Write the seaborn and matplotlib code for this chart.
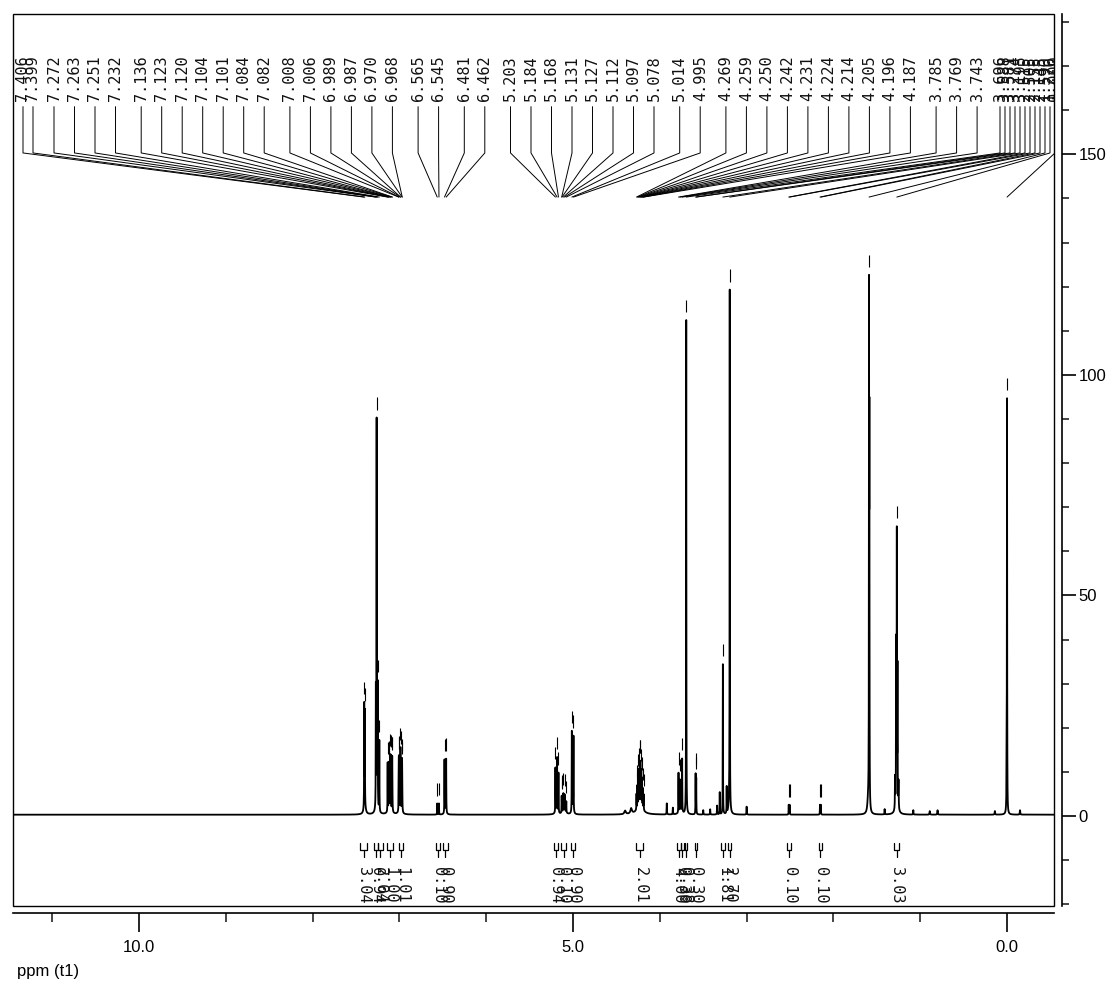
import numpy as np
import pandas as pd
import matplotlib
matplotlib.use("Agg")
import matplotlib.pyplot as plt
import seaborn as sns
from matplotlib.patches import Rectangle
from matplotlib.ticker import MultipleLocator, FixedLocator, FormatStrFormatter

# ---------------- data ----------------
# picked (labelled) peaks: chemical shift (ppm) and intensity
peak_ppm = [7.406, 7.399, 7.272, 7.263, 7.251, 7.232, 7.136, 7.123, 7.120, 7.104,
            7.101, 7.084, 7.082, 7.008, 7.006, 6.989, 6.987, 6.970, 6.968,
            6.565, 6.545, 6.481, 6.462,
            5.203, 5.184, 5.168, 5.131, 5.127, 5.112, 5.097, 5.078, 5.014, 4.995,
            4.269, 4.259, 4.250, 4.242, 4.231, 4.224, 4.214, 4.205, 4.196, 4.187,
            3.785, 3.769, 3.743, 3.696, 3.588, 3.581, 3.274, 3.195,
            2.515, 2.505, 2.155, 2.145, 1.590, 1.270, 0.000]
peak_height = [23, 21, 26, 86, 27, 16, 11, 9, 8, 10,
               10, 9, 9, 9, 9, 10, 9, 9, 8,
               2.5, 2.5, 12, 12,
               10, 12, 9, 3.5, 3, 4, 3.5, 2.5, 18, 17,
               3.5, 5, 7, 8, 9.5, 9.5, 8, 6.5, 4.5, 3.5,
               9, 7, 12, 112, 9, 8, 34, 117,
               2.2, 2.2, 2.2, 2.2, 111, 60, 92]

# unpicked lines, shoulders and small impurity signals
extra_ppm = [7.400, 7.260, 7.110, 6.990, 6.470, 5.190, 5.100, 5.005, 4.230, 4.330,
             4.400, 3.920, 3.850, 3.760, 3.500, 3.420, 3.340, 3.310, 3.230, 3.200,
             3.000, 1.586, 1.600, 1.290, 1.262, 1.278, 1.250, 1.270, 1.410, 1.080,
             0.890, 0.800, 0.004, 0.140, -0.150]
extra_height = [2.0, 3.0, 1.5, 1.5, 1.0, 1.0, 1.0, 1.5, 2.0, 1.2,
                0.8, 2.5, 1.5, 1.0, 1.0, 1.2, 2.0, 5.0, 6.0, 2.5,
                1.8, 80, 3.0, 7.0, 30, 36, 6.0, 3.0, 1.2, 1.0,
                0.8, 1.0, 12, 0.8, 1.0]
extra_hwhm = [0.012, 0.012, 0.020, 0.015, 0.010, 0.015, 0.020, 0.010, 0.040, 0.010,
              0.010, 0.002, 0.002, 0.020, 0.002, 0.002, 0.002, 0.0015, 0.0015, 0.010,
              0.002, 0.0015, 0.010, 0.002, 0.0015, 0.0015, 0.002, 0.015, 0.002, 0.002,
              0.003, 0.003, 0.002, 0.003, 0.003]

# integrals: region centre (ppm), region width (ppm), value
integ_ppm = [7.41, 7.27, 7.22, 7.11, 6.98, 6.555, 6.47, 5.20, 5.11, 5.00,
             4.23, 3.78, 3.74, 3.70, 3.585, 3.27, 3.195, 2.51, 2.15, 1.27]
integ_width = [0.08, 0.05, 0.05, 0.06, 0.05, 0.04, 0.05, 0.05, 0.05, 0.04,
               0.08, 0.04, 0.04, 0.03, 0.02, 0.04, 0.04, 0.04, 0.04, 0.06]
integ_label = ["3.04", "0.94", "2.04", "1.00", "1.01", "0.10", "0.90", "0.94", "0.10", "0.90",
               "2.01", "4.00", "0.30", "0.38", "0.30", "1.81", "2.70", "0.10", "0.10", "3.03"]

x_major = [10.0, 5.0, 0.0]
y_major = [0, 50, 100, 150]

# ---------------- figure ----------------
sns.set_style("white")
plt.rcParams['font.family'] = ['Liberation Sans', 'DejaVu Sans']
plt.rcParams['text.color'] = 'black'

W_PX, H_PX = 1110, 983
fig = plt.figure(figsize=(W_PX / 100, H_PX / 100), dpi=100)
left_px, right_px, top_px, bot_px = 12.7, 1054.0, 14.0, 906.0
ax = fig.add_axes([left_px / W_PX, 1 - bot_px / H_PX,
                   (right_px - left_px) / W_PX, (bot_px - top_px) / H_PX])
XL = (11.456, -0.541)
YL = (-20.4, 181.8)

# spectrum as sum of Lorentzian lines
all_p = np.array(peak_ppm + extra_ppm)
all_h = np.array(peak_height + extra_height, dtype=float)
all_w = np.array([0.0015] * len(peak_ppm) + extra_hwhm)
grid = np.union1d(np.arange(XL[1], XL[0], 0.0004), all_p)
spec = (all_h[None, :] * all_w[None, :] ** 2 /
        ((grid[:, None] - all_p[None, :]) ** 2 + all_w[None, :] ** 2)).sum(axis=1) + 0.3

df = pd.DataFrame({"ppm": grid, "intensity": spec})
sns.lineplot(data=df, x="ppm", y="intensity", estimator=None, color="black",
             linewidth=1.3, ax=ax)

# peak-pick markers above each picked line
ph = np.interp(peak_ppm, grid, spec)
ax.vlines(peak_ppm, ph + 1.8, ph + 4.6, color="black", lw=0.8)

# label layout: evenly spread, extra gap between clusters, squeezed at edges
n = len(peak_ppm)
pos = [0.0]
for a, b in zip(peak_ppm[:-1], peak_ppm[1:]):
    pos.append(pos[-1] + 20.5 + (5.2 if a - b > 0.04 else 0.0))
pos = np.array(pos) + (54.0 - pos[2])
idx = np.arange(n)
pos = np.maximum(pos, 23 + 10 * idx)
pos = np.minimum(pos, 1055 - 5 * (n - 1 - idx))
lab_x = XL[0] + (pos - left_px) / (right_px - left_px) * (XL[1] - XL[0])

for lx, p in zip(lab_x, peak_ppm):
    ax.plot([lx, lx, p], [160.8, 150.3, 140.3], color="black", lw=0.7)
    ax.text(lx, 162.0, f"{p:.3f}", rotation=90, ha="center", va="bottom",
            fontsize=11, family="DejaVu Sans Mono", color="#111111", clip_on=True)

# integral brackets and values
for c, w, lab in zip(integ_ppm, integ_width, integ_label):
    a, b = c + w / 2, c - w / 2
    ax.plot([a, a, b, b], [-6.1, -7.7, -7.7, -6.1], color="black", lw=0.9)
    ax.plot([c, c], [-7.7, -9.4], color="black", lw=0.9)
    ax.text(c, -11.6, lab, rotation=270, ha="center", va="top", fontsize=11,
            family="DejaVu Sans Mono", color="#111111")

ax.set_xlim(*XL)
ax.set_ylim(*YL)
ax.set_xlabel("")
ax.set_ylabel("")

# frame
ax.add_patch(Rectangle((0, 0), 1, 1, transform=ax.transAxes, fill=False,
                       lw=1.0, ec="black", clip_on=False, zorder=5))
for s in ["left", "top"]:
    ax.spines[s].set_visible(False)
ax.spines["right"].set_position(("outward", 5.8))
ax.spines["bottom"].set_position(("outward", 5.0))
for s in ["right", "bottom"]:
    ax.spines[s].set_visible(True)
    ax.spines[s].set_color("black")
    ax.spines[s].set_linewidth(1.2)

ax.yaxis.tick_right()
ax.xaxis.set_major_locator(FixedLocator(x_major))
ax.xaxis.set_minor_locator(MultipleLocator(1.0))
ax.xaxis.set_major_formatter(FormatStrFormatter("%.1f"))
ax.yaxis.set_major_locator(FixedLocator(y_major))
ax.yaxis.set_minor_locator(MultipleLocator(10))
ax.tick_params(axis="x", which="major", bottom=True, top=False, length=13.7, width=1.2,
               direction="out", pad=6, labelsize=12, colors="black")
ax.tick_params(axis="x", which="minor", bottom=True, top=False, length=6.5, width=1.2,
               direction="out")
ax.tick_params(axis="y", which="major", right=True, left=False, labelright=True,
               labelleft=False, length=10, width=1.2, direction="out", pad=2,
               labelsize=12, colors="black")
ax.tick_params(axis="y", which="minor", right=True, left=False, length=5, width=1.2,
               direction="out")

fig.text(17 / W_PX, 1 - 976 / H_PX, "ppm (t1)", ha="left", va="baseline",
         fontsize=12, color="black")

fig.savefig("out.png", dpi=100)
